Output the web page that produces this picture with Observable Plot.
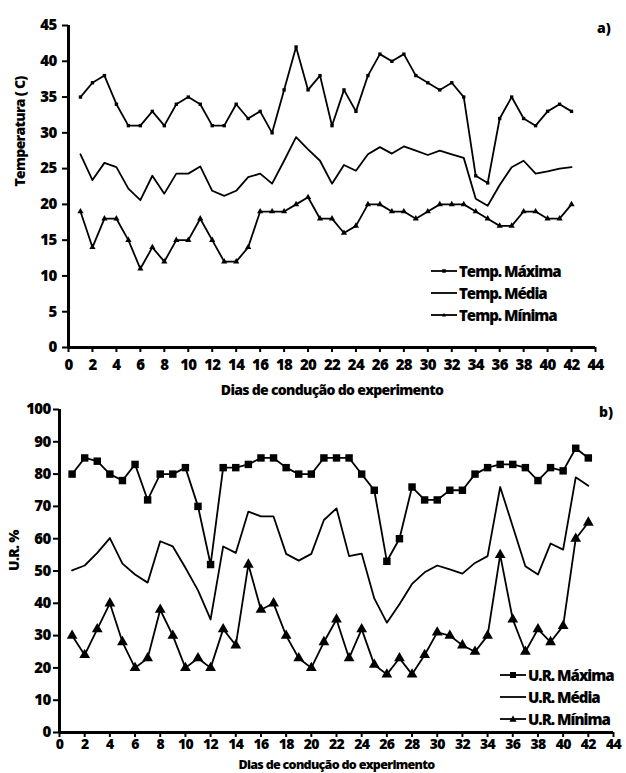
<!DOCTYPE html>
<html><head><meta charset="utf-8">
<script src="https://cdn.jsdelivr.net/npm/d3@7"></script>
<script src="https://cdn.jsdelivr.net/npm/@observablehq/plot@0.6"></script>
<style>
body{margin:0;background:#fff;}
#wrap{position:relative;width:626px;height:773px;overflow:hidden;font-family:"Open Sans",sans-serif;color:#000;}
.panel{position:absolute;left:0;}
.tag{position:absolute;font-weight:800;font-size:14px;}
.legend{position:absolute;font-weight:800;font-size:15px;letter-spacing:-1px;}
.legend .row{display:flex;align-items:center;height:22px;}
.legend svg{margin-right:2px;}
</style></head><body><div id="wrap"></div>
<script>
// ---- data ----
const days = [1,2,3,4,5,6,7,8,9,10,11,12,13,14,15,16,17,18,19,20,21,22,23,24,25,26,27,28,29,30,31,32,33,34,35,36,37,38,39,40,41,42];
const tempMax = [35,37,38,34,31,31,33,31,34,35,34,31,31,34,32,33,30,36,42,36,38,31,36,33,38,41,40,41,38,37,36,37,35,24,23,32,35,32,31,33,34,33];
const tempMed = [27,23.4,25.8,25.2,22.2,20.6,24,21.5,24.3,24.3,25.3,21.9,21.2,21.9,23.8,24.3,22.9,26.1,29.4,27.7,26.1,22.9,25.5,24.7,27,28,27.1,28.1,27.5,26.9,27.5,27,26.5,20.8,19.8,22.7,25.2,26.1,24.3,24.6,25,25.2];
const tempMin = [19,14,18,18,15,11,14,12,15,15,18,15,12,12,14,19,19,19,20,21,18,18,16,17,20,20,19,19,18,19,20,20,20,19,18,17,17,19,19,18,18,20];
const urMax = [80,85,84,80,78,83,72,80,80,82,70,52,82,82,83,85,85,82,80,80,85,85,85,80,75,53,60,76,72,72,75,75,80,82,83,83,82,78,82,81,88,85];
const urMed = [50.2,51.7,55.6,60.2,52.3,48.9,46.4,59.2,57.6,51,44,35,57.6,55.6,68.4,66.9,66.9,55.3,53.2,55.3,65.8,69.4,54.6,55.4,41.5,34,39.7,46,49.6,51.7,50.5,49.2,52.5,54.6,76,63.8,51.5,48.9,58.5,56.6,79,76.4];
const urMin = [30,24,32,40,28,20,23,38,30,20,23,20,32,27,52,38,40,30,23,20,28,35,23,32,21,18,23,18,24,31,30,27,25,30,55,35,25,32,28,33,60,65];
const xTicks = [0,2,4,6,8,10,12,14,16,18,20,22,24,26,28,30,32,34,36,38,40,42,44];
const yTicksA = [0,5,10,15,20,25,30,35,40,45];
const yTicksB = [0,10,20,30,40,50,60,70,80,90,100];
const xTitle = "Dias de condução do experimento";
const yTitleA = "Temperatura ( C)";
const yTitleB = "U.R. %";
const legendA = ["Temp. Máxima","Temp. Média","Temp. Mínima"];
const legendB = ["U.R. Máxima","U.R. Média","U.R. Mínima"];

const rows = arr => days.map((d,i)=>({day:d, v:arr[i]}));
const wrap = document.getElementById("wrap");

function panel({top,height,mt,mb,ml,mr,ydom,yticks,ypad,xpad,xfs,series,ytitle,ytdx,xtdy,xtfs,symMax,rMax,rMin}){
  const [mx,md,mn] = series.map(rows);
  const p = Plot.plot({
    width:626, height, marginTop:mt, marginBottom:mb, marginLeft:ml, marginRight:mr,
    x:{domain:[0,44]}, y:{domain:ydom},
    style:{fontFamily:"Open Sans", fontSize:"15px", fontWeight:"800", color:"#000", background:"transparent", letterSpacing:"-0.7px", overflow:"visible"},
    marks:[
      Plot.axisX({ticks:xTicks, tickSize:5, tickPadding:xpad, fontSize:xfs, strokeWidth:2, label:null}),
      Plot.axisY({ticks:yticks, tickSize:6, tickPadding:ypad, strokeWidth:2, label:null}),
      Plot.ruleX([0],{strokeWidth:3}),
      Plot.ruleY([0],{strokeWidth:3}),
      Plot.line(md,{x:"day",y:"v",stroke:"#000",strokeWidth:1.8}),
      Plot.line(mx,{x:"day",y:"v",stroke:"#000",strokeWidth:1.8}),
      Plot.line(mn,{x:"day",y:"v",stroke:"#000",strokeWidth:1.8}),
      Plot.dot(mx,{x:"day",y:"v",symbol:symMax,r:rMax,fill:"#000"}),
      Plot.dot(mn,{x:"day",y:"v",symbol:"triangle",r:rMin,fill:"#000"}),
      Plot.text([ytitle],{frameAnchor:"left", rotate:-90, dx:ytdx, fontSize:14, letterSpacing:"-0.9px"}),
      Plot.text([xTitle],{frameAnchor:"bottom", dy:xtdy, fontSize:xtfs, letterSpacing:"-1.1px"})
    ]
  });
  p.classList.add("panel");
  p.style.top = top+"px";
  wrap.appendChild(p);
}

panel({top:0,height:400,mt:25,mb:53,ml:68,mr:31,ydom:[0,45],yticks:yTicksA,ypad:6,xpad:7,xfs:15,
  series:[tempMax,tempMed,tempMin],ytitle:yTitleA,ytdx:-48,xtdy:47,xtfs:14,symMax:"square",rMax:1.9,rMin:2.3});
panel({top:390,height:383,mt:19,mb:41,ml:59,mr:13,ydom:[0,100],yticks:yTicksB,ypad:3,xpad:2,xfs:14,
  series:[urMax,urMed,urMin],ytitle:yTitleB,ytdx:-45,xtdy:36,xtfs:12.5,symMax:"square",rMax:4.2,rMin:4});

function tag(t,x,y){const d=document.createElement("div");d.className="tag";d.textContent=t;d.style.left=x+"px";d.style.top=y+"px";wrap.appendChild(d);}
tag("a)",597,18); tag("b)",599,402);

function legend(labels,x,y,msize){
  const L=document.createElement("div");L.className="legend";L.style.left=x+"px";L.style.top=y+"px";
  labels.forEach((t,i)=>{
    const r=document.createElement("div");r.className="row";
    let mk="";
    if(i===0) mk=`<rect x="${13-msize/2}" y="${6-msize/2}" width="${msize}" height="${msize}" fill="#000"/>`;
    if(i===2) mk=`<path d="M13,${6-msize*0.6}L${13+msize*0.6},${6+msize*0.45}L${13-msize*0.6},${6+msize*0.45}Z" fill="#000"/>`;
    r.innerHTML=`<svg width="26" height="12"><line x1="0" y1="6" x2="26" y2="6" stroke="#000" stroke-width="1.8"/>${mk}</svg><span>${t}</span>`;
    L.appendChild(r);
  });
  wrap.appendChild(L);
}
legend(legendA,431,260,3.5);
legend(legendB,500,664,6);
</script></body></html>
